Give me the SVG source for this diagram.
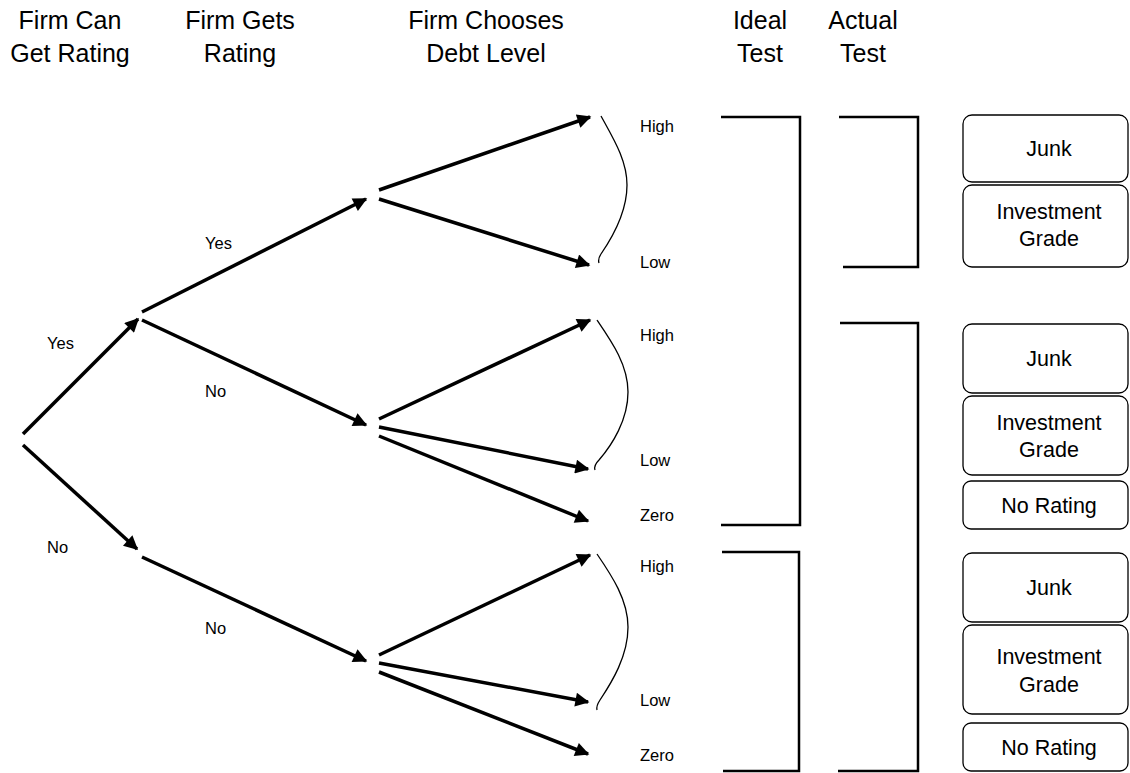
<svg xmlns="http://www.w3.org/2000/svg" width="1130" height="773" viewBox="0 0 1130 773">
<style>
.hd{font-family:"Liberation Sans",Arial,sans-serif;font-size:25px;fill:#000;text-anchor:middle}
.lb{font-family:"Liberation Sans",Arial,sans-serif;font-size:16.5px;fill:#000}
.bx{font-family:"Liberation Sans",Arial,sans-serif;font-size:21.5px;fill:#000;text-anchor:middle}
.ar{stroke:#000;stroke-width:3.5;fill:none;marker-end:url(#ah)}
.br{stroke:#000;stroke-width:2.5;fill:none}
.cv{stroke:#000;stroke-width:1.3;fill:none}
.box{fill:#fff;stroke:#000;stroke-width:1.3}
</style>
<defs>
<marker id="ah" viewBox="0 0 10 10" refX="9" refY="5" markerWidth="5.5" markerHeight="4" markerUnits="strokeWidth" orient="auto">
<path d="M0,0 L10,5 L0,10 Z" fill="#000"/>
</marker>
</defs>
<rect width="1130" height="773" fill="#fff"/>
<g id="headers">
<text class="hd" x="70" y="29">Firm Can</text>
<text class="hd" x="70" y="62">Get Rating</text>
<text class="hd" x="240" y="29">Firm Gets</text>
<text class="hd" x="240" y="62">Rating</text>
<text class="hd" x="486" y="29">Firm Chooses</text>
<text class="hd" x="486" y="62">Debt Level</text>
<text class="hd" x="760" y="29">Ideal</text>
<text class="hd" x="760" y="62">Test</text>
<text class="hd" x="863" y="29">Actual</text>
<text class="hd" x="863" y="62">Test</text>
</g>
<g id="connectors">
<line class="ar" x1="23" y1="434" x2="138" y2="319"/>
<line class="ar" x1="23" y1="445" x2="137" y2="549"/>
<line class="ar" x1="142" y1="312" x2="366" y2="199"/>
<line class="ar" x1="142" y1="320" x2="366" y2="425"/>
<line class="ar" x1="142" y1="557" x2="366" y2="661"/>
<line class="ar" x1="379" y1="190" x2="590" y2="117"/>
<line class="ar" x1="379" y1="199" x2="589" y2="265"/>
<line class="ar" x1="379" y1="419" x2="590" y2="320"/>
<line class="ar" x1="379" y1="427" x2="588" y2="469"/>
<line class="ar" x1="379" y1="436" x2="588" y2="521"/>
<line class="ar" x1="379" y1="655" x2="590" y2="555"/>
<line class="ar" x1="379" y1="663" x2="588" y2="702"/>
<line class="ar" x1="379" y1="672" x2="588" y2="754"/>
<path class="cv" d="M601,116 C613,138 627,160 627,185 C627,212 612,238 601,254 C599,257 598,260 599,263"/>
<path class="cv" d="M597,320 C612,342 628,365 628,392 C628,420 612,445 599,460 C596,463 594,467 595,470"/>
<path class="cv" d="M597,554 C612,576 628,600 628,627 C628,656 612,682 600,700 C598,703 596,706 597,710"/>
<path class="br" d="M721,117 H800 V525 H721"/>
<path class="br" d="M839,117 H918 V267 H843"/>
<path class="br" d="M840,323 H918 V771 H838"/>
<path class="br" d="M722,552 H799 V771 H723"/>
</g>
<g id="labels">
<text class="lb" x="47" y="349">Yes</text>
<text class="lb" x="205" y="249">Yes</text>
<text class="lb" x="205" y="397">No</text>
<text class="lb" x="47" y="553">No</text>
<text class="lb" x="205" y="634">No</text>
<text class="lb" x="640" y="132">High</text>
<text class="lb" x="640" y="268">Low</text>
<text class="lb" x="640" y="341">High</text>
<text class="lb" x="640" y="466">Low</text>
<text class="lb" x="640" y="521">Zero</text>
<text class="lb" x="640" y="572">High</text>
<text class="lb" x="640" y="706">Low</text>
<text class="lb" x="640" y="761">Zero</text>
</g>
<g id="box-junk-1"><rect class="box" x="963" y="115" width="165" height="67" rx="9"/><text class="bx" x="1049" y="156">Junk</text></g>
<g id="box-ig-1"><rect class="box" x="963" y="185" width="165" height="82" rx="9"/><text class="bx" x="1049" y="219">Investment</text><text class="bx" x="1049" y="246">Grade</text></g>
<g id="box-junk-2"><rect class="box" x="963" y="324" width="165" height="69" rx="9"/><text class="bx" x="1049" y="366">Junk</text></g>
<g id="box-ig-2"><rect class="box" x="963" y="396" width="165" height="79" rx="9"/><text class="bx" x="1049" y="430">Investment</text><text class="bx" x="1049" y="457">Grade</text></g>
<g id="box-nr-2"><rect class="box" x="963" y="481" width="165" height="48" rx="8"/><text class="bx" x="1049" y="513">No Rating</text></g>
<g id="box-junk-3"><rect class="box" x="963" y="553" width="165" height="69" rx="9"/><text class="bx" x="1049" y="595">Junk</text></g>
<g id="box-ig-3"><rect class="box" x="963" y="625" width="165" height="89" rx="9"/><text class="bx" x="1049" y="664">Investment</text><text class="bx" x="1049" y="692">Grade</text></g>
<g id="box-nr-3"><rect class="box" x="963" y="723" width="165" height="48" rx="8"/><text class="bx" x="1049" y="755">No Rating</text></g>
</svg>
